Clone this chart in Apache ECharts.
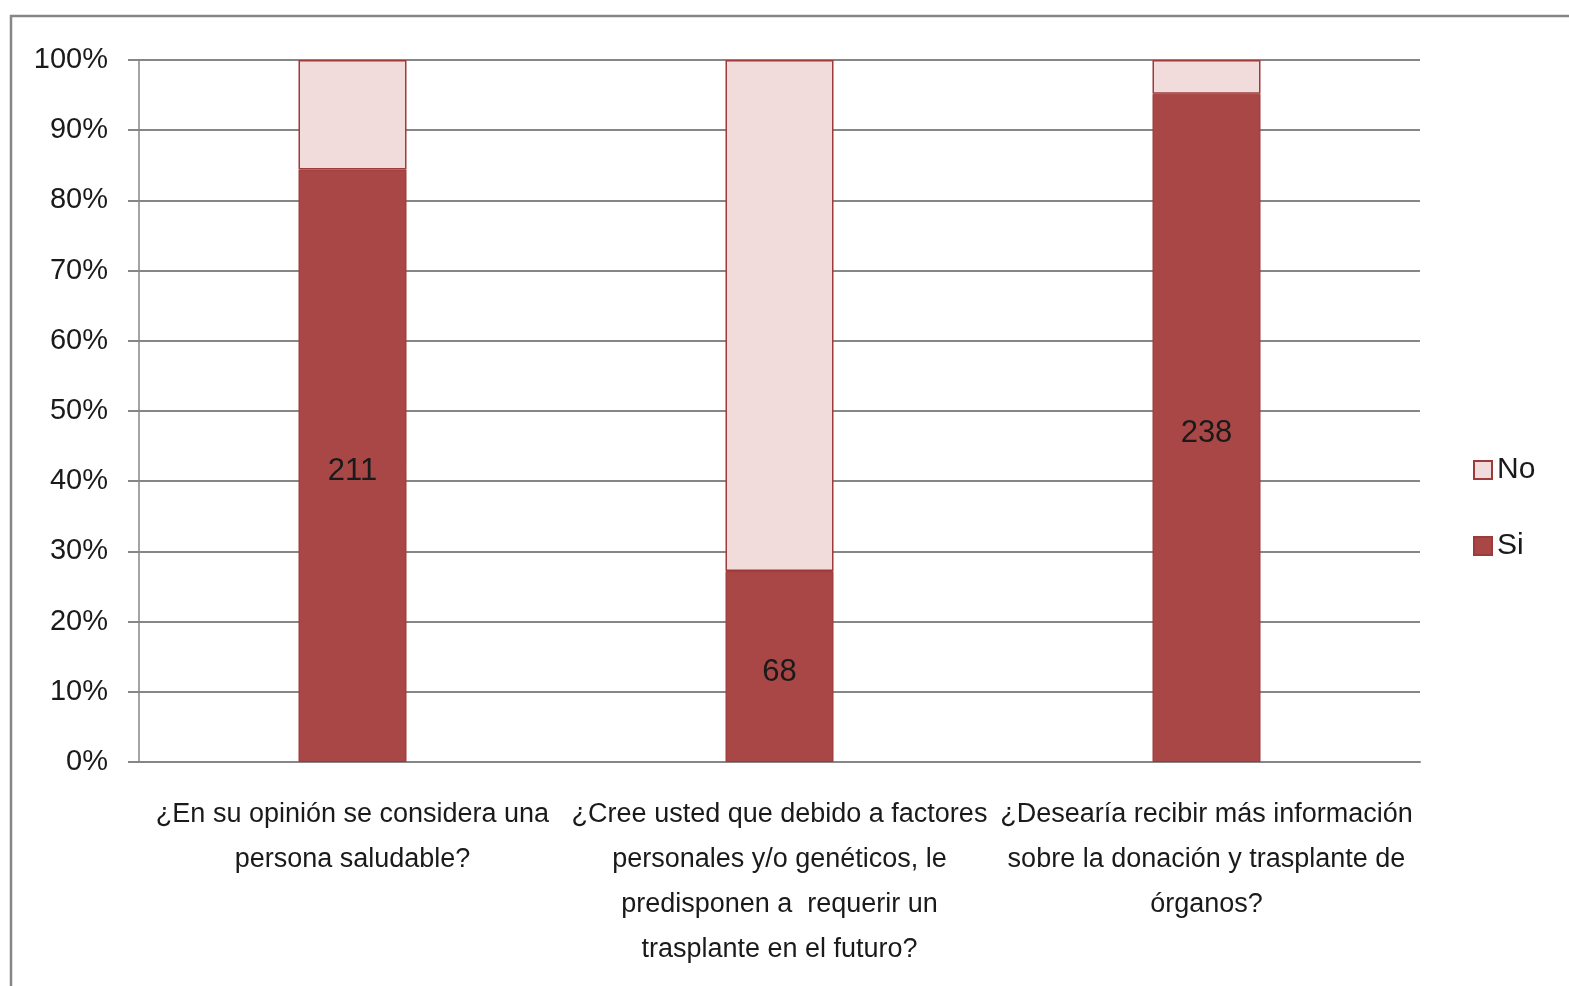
<!DOCTYPE html>
<html>
<head>
<meta charset="utf-8">
<script src="https://cdn.jsdelivr.net/npm/echarts@6/dist/echarts.min.js"></script>
<style>
  html, body { margin: 0; padding: 0; background: #fff; }
  #chart { width: 1569px; height: 986px; }
</style>
</head>
<body>
<div id="chart"></div>
<script>
// Survey questions (x-axis categories)
const categories = [
  '¿En su opinión se considera una\npersona saludable?',
  '¿Cree usted que debido a factores\npersonales y/o genéticos, le\npredisponen a  requerir un\ntrasplante en el futuro?',
  '¿Desearía recibir más información\nsobre la donación y trasplante de\nórganos?'
];
// Answer counts per question
const siCounts = [211, 68, 238];
const noCounts = [39, 182, 12];
// Percent axis ticks
const yTicks = [0, 10, 20, 30, 40, 50, 60, 70, 80, 90, 100];

const totals = siCounts.map((v, i) => v + noCounts[i]);
const siPct = siCounts.map((v, i) => v / totals[i] * 100);
const noPct = noCounts.map((v, i) => v / totals[i] * 100);

const FONT = '"Liberation Sans", Arial, sans-serif';
const GRID = '#868686';
const SI_COLOR = '#A84745';
const NO_COLOR = '#F2DCDB';
const EDGE = '#9E3B3A';

const chart = echarts.init(document.getElementById('chart'));
chart.setOption({
  animation: false,
  textStyle: { fontFamily: FONT, color: '#1a1a1a' },
  graphic: [
    { type: 'line', shape: { x1: 10, y1: 16, x2: 1569, y2: 16 }, style: { stroke: GRID, lineWidth: 2.5 } },
    { type: 'line', shape: { x1: 11, y1: 15, x2: 11, y2: 986 }, style: { stroke: GRID, lineWidth: 2.5 } }
  ],
  grid: { left: 139, right: 149, top: 60, bottom: 224 },
  legend: {
    orient: 'vertical',
    left: 1468,
    top: 450,
    icon: 'rect',
    itemWidth: 18,
    itemHeight: 18,
    itemGap: 46,
    data: ['No', 'Si'],
    textStyle: { fontFamily: FONT, fontSize: 30, color: '#1a1a1a' }
  },
  xAxis: {
    type: 'category',
    data: categories,
    axisLine: { show: true, lineStyle: { color: GRID, width: 2 } },
    axisTick: { show: false },
    axisLabel: {
      interval: 0,
      margin: 30,
      fontFamily: FONT,
      fontSize: 27,
      lineHeight: 45,
      color: '#1a1a1a'
    }
  },
  yAxis: {
    type: 'value',
    min: 0,
    max: 100,
    interval: 10,
    axisLine: { show: true, lineStyle: { color: GRID, width: 1.5 } },
    axisTick: { show: true, length: 11, lineStyle: { color: GRID, width: 2 } },
    splitLine: { show: true, lineStyle: { color: GRID, width: 2 } },
    axisLabel: {
      margin: 31,
      fontFamily: FONT,
      fontSize: 29,
      color: '#1a1a1a',
      customValues: yTicks,
      formatter: '{value}%'
    }
  },
  series: [
    {
      name: 'Si',
      type: 'bar',
      stack: 'total',
      barWidth: 108,
      data: siPct,
      itemStyle: { color: SI_COLOR, borderColor: EDGE, borderWidth: 1 },
      label: {
        show: true,
        position: 'inside',
        offset: [0, 6],
        fontFamily: FONT,
        fontSize: 31,
        color: '#1a1a1a',
        formatter: p => String(siCounts[p.dataIndex])
      }
    },
    {
      name: 'No',
      type: 'bar',
      stack: 'total',
      barWidth: 108,
      data: noPct,
      itemStyle: { color: NO_COLOR, borderColor: EDGE, borderWidth: 1.5 }
    }
  ]
});
</script>
</body>
</html>
